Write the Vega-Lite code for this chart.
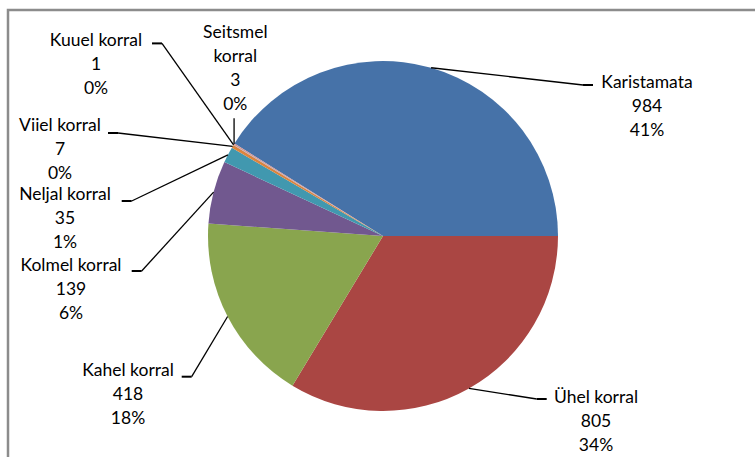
{
  "$schema": "https://vega.github.io/schema/vega-lite/v6.json",
  "width": 750,
  "height": 452,
  "autosize": "none",
  "padding": {"left": 8, "top": 10, "right": 0, "bottom": 0},
  "background": "white",
  "config": {"view": {"stroke": "#8c8c8c", "strokeWidth": 2.5}, "font": "Lato"},
  "datasets": {
    "counts": [
      {"category": "Karistamata", "value": 984},
      {"category": "Ühel korral", "value": 805},
      {"category": "Kahel korral", "value": 418},
      {"category": "Kolmel korral", "value": 139},
      {"category": "Neljal korral", "value": 35},
      {"category": "Viiel korral", "value": 7},
      {"category": "Kuuel korral", "value": 1},
      {"category": "Seitsmel korral", "value": 3}
    ],
    "labels": [
      {"category": "Karistamata", "text": "Karistamata\n984\n41%", "tx": 1.5086, "ty": 0.8457, "ex": 1.2, "ey": 0.8629},
      {"category": "Ühel korral", "text": "Ühel korral\n805\n34%", "tx": 1.2171, "ty": -0.9543, "ex": 0.9354, "ey": -0.9314},
      {"category": "Kahel korral", "text": "Kahel korral\n418\n18%", "tx": -1.4571, "ty": -0.8, "ex": -1.1503, "ey": -0.804},
      {"category": "Kolmel korral", "text": "Kolmel korral\n139\n6%", "tx": -1.7829, "ty": -0.2, "ex": -1.436, "ey": -0.2},
      {"category": "Neljal korral", "text": "Neljal korral\n35\n1%", "tx": -1.8171, "ty": 0.205, "ex": -1.4931, "ey": 0.2},
      {"category": "Viiel korral", "text": "Viiel korral\n7\n0%", "tx": -1.8457, "ty": 0.6, "ex": -1.5714, "ey": 0.5886},
      {"category": "Kuuel korral", "text": "Kuuel korral\n1\n0%", "tx": -1.64, "ty": 1.0874, "ex": -1.32, "ey": 1.1006},
      {"category": "Seitsmel korral", "text": "Seitsmel\nkorral\n3\n0%", "tx": -0.844, "ty": 1.1297, "ex": -0.851, "ey": 0.6726}
    ]
  },
  "data": {"name": "counts"},
  "transform": [
    {"window": [{"op": "row_number", "as": "rank"}]},
    {"joinaggregate": [{"op": "sum", "field": "value", "as": "total"}]},
    {"window": [{"op": "sum", "field": "value", "as": "cum"}], "sort": [{"field": "rank"}], "frame": [null, 0]},
    {"calculate": "-1.013937 + 2*PI*(datum.cum - datum.value/2)/datum.total", "as": "mid"},
    {"calculate": "sin(datum.mid)", "as": "edgeX"},
    {"calculate": "cos(datum.mid)", "as": "edgeY"},
    {"lookup": "category", "from": {"data": {"name": "labels"}, "key": "category", "fields": ["text", "tx", "ty", "ex", "ey"]}},
    {"calculate": "abs(datum.ex - datum.edgeX) < 0.05 ? datum.ex : (datum.ex > datum.edgeX ? datum.ex - 0.057 : datum.ex + 0.057)", "as": "elbowX"}
  ],
  "layer": [
    {
      "mark": {"type": "arc", "outerRadius": 175},
      "encoding": {
        "theta": {"field": "value", "type": "quantitative", "stack": true, "scale": {"range": [-1.013937, 5.269248]}},
        "order": {"field": "rank"},
        "color": {
          "field": "category",
          "type": "nominal",
          "legend": null,
          "scale": {
            "domain": ["Karistamata", "Ühel korral", "Kahel korral", "Kolmel korral", "Neljal korral", "Viiel korral", "Kuuel korral", "Seitsmel korral"],
            "range": ["#4672A8", "#AA4643", "#89A54E", "#71588F", "#4198AF", "#DB843D", "#93A9CF", "#D19392"]
          }
        }
      }
    },
    {
      "mark": {"type": "rule", "color": "black", "strokeWidth": 1.3},
      "encoding": {
        "x": {"field": "edgeX", "type": "quantitative", "axis": null, "scale": {"domain": [-2.142857, 2.142857], "nice": false, "zero": false}},
        "y": {"field": "edgeY", "type": "quantitative", "axis": null, "scale": {"domain": [-1.291429, 1.291429], "nice": false, "zero": false}},
        "x2": {"field": "elbowX"},
        "y2": {"field": "ey"}
      }
    },
    {
      "mark": {"type": "rule", "color": "black", "strokeWidth": 2},
      "encoding": {
        "x": {"field": "elbowX", "type": "quantitative", "axis": null, "scale": {"domain": [-2.142857, 2.142857], "nice": false, "zero": false}},
        "y": {"field": "ey", "type": "quantitative", "axis": null, "scale": {"domain": [-1.291429, 1.291429], "nice": false, "zero": false}},
        "x2": {"field": "ex"},
        "y2": {"field": "ey"}
      }
    },
    {
      "mark": {"type": "text", "lineBreak": "\n", "align": "center", "baseline": "alphabetic", "fontSize": 17.5, "lineHeight": 24, "color": "black"},
      "encoding": {
        "x": {"field": "tx", "type": "quantitative", "axis": null, "scale": {"domain": [-2.142857, 2.142857], "nice": false, "zero": false}},
        "y": {"field": "ty", "type": "quantitative", "axis": null, "scale": {"domain": [-1.291429, 1.291429], "nice": false, "zero": false}},
        "text": {"field": "text"}
      }
    }
  ]
}
